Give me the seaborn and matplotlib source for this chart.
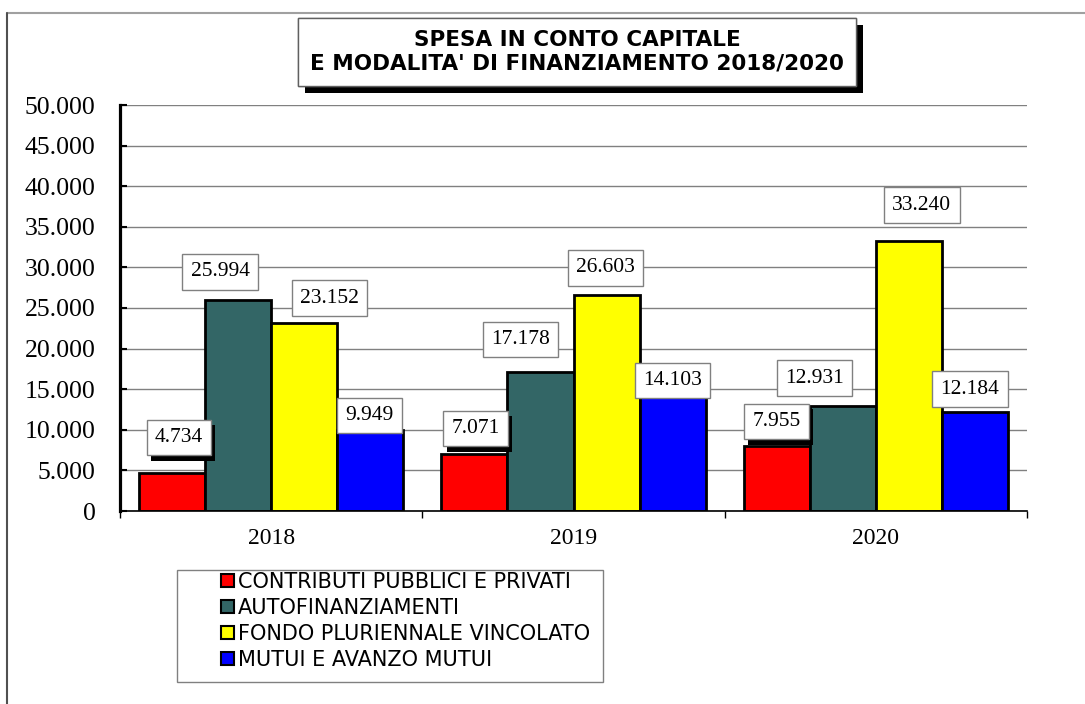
import matplotlib
matplotlib.use('Agg')
import matplotlib.pyplot as plt
import matplotlib.patheffects as pe
from matplotlib.patches import Rectangle, Patch
from matplotlib.lines import Line2D
from matplotlib.ticker import FuncFormatter, MultipleLocator, FixedLocator
import seaborn as sns
import pandas as pd

# data
years = ['2018', '2019', '2020']
series = ['CONTRIBUTI PUBBLICI E PRIVATI', 'AUTOFINANZIAMENTI',
          'FONDO PLURIENNALE VINCOLATO', 'MUTUI E AVANZO MUTUI']
contributi = [4734, 7071, 7955]
autofinanziamenti = [25994, 17178, 12931]
fondo_vincolato = [23152, 26603, 33240]
mutui = [9949, 14103, 12184]
colors = ['#FF0000', '#336666', '#FFFF00', '#0000FF']

# hand placed label offsets (pixels from the top centre of each bar)
label_dx = [[7, 1, 0], [-18, -20, -28], [25, -1, 13], [-1, 0, -5]]
label_dy = [[35, 25, 25], [28, 32, 28], [25, 27, 36], [15, 16, 23]]

values = [contributi, autofinanziamenti, fondo_vincolato, mutui]
df = pd.DataFrame({
    'Anno': years * len(series),
    'Voce': [s for s in series for _ in years],
    'Valore': [v for vals in values for v in vals],
})

sns.set_theme(style='white')
plt.rcParams['font.family'] = ['Liberation Serif', 'DejaVu Serif']
plt.rcParams['text.color'] = 'black'
plt.rcParams['xtick.color'] = 'black'
plt.rcParams['ytick.color'] = 'black'

W, H = 1085, 704
fig = plt.figure(figsize=(W / 100, H / 100), dpi=100)
ax = fig.add_axes([120 / W, 1 - 511 / H, (1027 - 120) / W, (511 - 105) / H])

sns.barplot(data=df, x='Anno', y='Valore', hue='Voce', hue_order=series,
            palette=colors, saturation=1, width=0.875, gap=0,
            edgecolor='black', linewidth=2, errorbar=None, legend=False, ax=ax)

ax.set_xlim(-0.5, 2.5)
ax.set_ylim(0, 50000)
ax.yaxis.set_major_locator(MultipleLocator(5000))
ax.yaxis.set_major_formatter(FuncFormatter(lambda v, p: f'{int(v):,}'.replace(',', '.')))
ax.set_axisbelow(True)
ax.grid(axis='y', color='#808080', linewidth=1)
ax.grid(axis='x', visible=False)
ax.set_xlabel('')
ax.set_ylabel('')

for side in ['top', 'right']:
    ax.spines[side].set_visible(False)
ax.spines['left'].set_color('black')
ax.spines['left'].set_linewidth(2.3)
ax.spines['bottom'].set_color('black')
ax.spines['bottom'].set_linewidth(1.2)

ax.tick_params(axis='y', direction='in', length=5, width=1.5, color='black',
               pad=17.5, labelsize=18.5, left=True, labelcolor='black')
ax.xaxis.set_minor_locator(FixedLocator([-0.5, 0.5, 1.5, 2.5]))
ax.tick_params(axis='x', which='major', length=0, pad=12, labelsize=17, labelcolor='black')
ax.tick_params(axis='x', which='minor', direction='out', length=5, width=1,
               color='black', bottom=True)

# value labels
for i, cont in enumerate(ax.containers):
    for j, bar in enumerate(cont):
        x = bar.get_x() + bar.get_width() / 2
        h = bar.get_height()
        t = ax.annotate(f'{int(h):,}'.replace(',', '.'), xy=(x, h),
                        xytext=(label_dx[i][j], label_dy[i][j]),
                        textcoords='offset pixels', ha='center', va='center',
                        fontsize=15.5, color='black', zorder=5,
                        bbox=dict(boxstyle='square,pad=0.38', fc='white',
                                  ec='#808080', lw=1))
        if i == 0:
            t.get_bbox_patch().set_path_effects(
                [pe.withSimplePatchShadow(offset=(3, -4), shadow_rgbFace='black', alpha=1.0)])

# title box with shadow
title_box = Rectangle((298 / W, 1 - 86 / H), 558 / W, 68 / H, transform=fig.transFigure,
                      fc='white', ec='#606060', lw=1, zorder=3)
title_box.set_path_effects([pe.withSimplePatchShadow(offset=(5, -5), shadow_rgbFace='black', alpha=1.0),
                            pe.Normal()])
fig.patches.append(title_box)
fig.text(577 / W, 1 - 52 / H, "SPESA IN CONTO CAPITALE\nE MODALITA' DI FINANZIAMENTO 2018/2020",
         ha='center', va='center', fontsize=15.5, fontweight='bold', linespacing=1.2,
         family=['DejaVu Sans'], color='black', zorder=4)

# legend in its own frame
fig.patches.append(Rectangle((177 / W, 1 - 682 / H), 426 / W, 112 / H, transform=fig.transFigure,
                             fc='white', ec='#808080', lw=1, zorder=1))
handles = [Patch(facecolor=c, edgecolor='black', linewidth=1.5) for c in colors]
leg = fig.legend(handles, series, loc='upper left', bbox_to_anchor=(221 / W, 1 - 572 / H),
                 frameon=False, borderpad=0, borderaxespad=0, handlelength=0.6, handleheight=0.6,
                 handletextpad=0.2, labelspacing=0.28,
                 prop={'family': 'DejaVu Sans', 'size': 15})
for txt in leg.get_texts():
    txt.set_color('black')

# outer frame of the sheet
fig.add_artist(Line2D([7 / W, 1], [1 - 13 / H, 1 - 13 / H], transform=fig.transFigure,
                      color='#a0a0a0', lw=1.5))
fig.add_artist(Line2D([7 / W, 7 / W], [0, 1 - 13 / H], transform=fig.transFigure,
                      color='#505050', lw=1.5))

fig.savefig('out.png', dpi=100)
